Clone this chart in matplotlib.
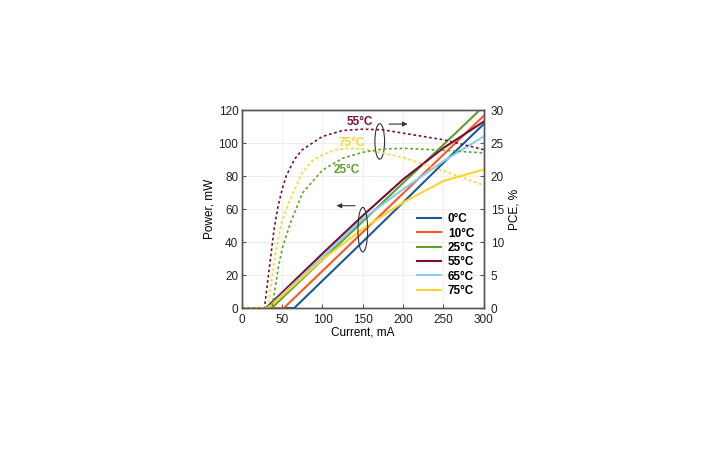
import numpy as np
import matplotlib
matplotlib.use("Agg")
import matplotlib.pyplot as plt
from matplotlib.patches import Ellipse

plt.rcParams['font.family'] = ['Liberation Sans', 'DejaVu Sans']

# --- data ---
temps = ["0°C", "10°C", "25°C", "55°C", "65°C", "75°C"]
colors = ["#1a5a9a", "#ff5722", "#5ba22a", "#7a0d33", "#86ccf2", "#ffd32a"]

# output power (mW) vs current (mA)
p_x = {
    "0°C":  [0, 65, 100, 150, 200, 250, 300],
    "10°C": [0, 52, 100, 150, 200, 250, 300],
    "25°C": [0, 37, 100, 150, 200, 250, 300],
    "55°C": [0, 30, 100, 150, 200, 250, 300],
    "65°C": [0, 32, 100, 150, 200, 250, 300],
    "75°C": [0, 33, 100, 150, 200, 250, 300],
}
p_y = {
    "0°C":  [0, 0, 16.6, 40.2, 64.0, 88.0, 111.5],
    "10°C": [0, 0, 22.5, 46.0, 69.5, 93.0, 116.5],
    "25°C": [0, 0, 29.3, 52.5, 75.8, 99.0, 122.3],
    "55°C": [0, 0, 33.0, 56.0, 78.0, 97.0, 113.0],
    "65°C": [0, 0, 31.0, 54.0, 72.0, 89.0, 104.0],
    "75°C": [0, 0, 29.5, 48.0, 64.0, 77.0, 84.0],
}

# power conversion efficiency (%) vs current (mA)
pce_temps = ["55°C", "75°C", "25°C"]
pce_x = {
    "55°C": [0, 28, 30, 35, 40, 45, 50, 55, 65, 75, 100, 125, 150, 175, 200, 250, 300],
    "75°C": [0, 33, 35, 40, 45, 50, 60, 75, 88, 100, 116, 134, 150, 175, 200, 250, 300],
    "25°C": [0, 37, 40, 45, 50, 60, 75, 100, 125, 150, 175, 200, 250, 300],
}
pce_y = {
    "55°C": [0, 0, 2, 7, 12, 15.5, 18, 20, 22.5, 24, 26, 26.9, 27.1, 27, 26.5, 25.5, 24],
    "75°C": [0, 0, 2.5, 7, 10.5, 13.3, 16.5, 20.5, 22.4, 23.2, 24, 24.2, 24.1, 23.5, 22.8, 20.8, 18.6],
    "25°C": [0, 0, 2, 6, 9, 12.8, 17.4, 20.9, 22.7, 23.6, 24.1, 24.2, 23.9, 23.5],
}

col = dict(zip(temps, colors))

fig = plt.figure(figsize=(7.22, 4.51), dpi=100)
ax = fig.add_axes([0.335, 0.317, 0.335, 0.439])
ax2 = ax.twinx()

for t in temps:
    ax.plot(p_x[t], p_y[t], color=col[t], lw=1.5, label=t, zorder=3)

for t in pce_temps:
    ax2.plot(pce_x[t], pce_y[t], color=col[t], lw=1.2, ls=(0, (1.6, 1.6)))

ax.set_xlim(0, 300)
ax.set_ylim(0, 120)
ax2.set_ylim(0, 30)
ax.set_xticks(np.arange(0, 301, 50))
ax.set_yticks(np.arange(0, 121, 20))
ax2.set_yticks(np.arange(0, 31, 5))

ax.grid(True, color="#ededed", lw=0.6)
ax.set_axisbelow(True)

spine_c = "#555555"
for a in (ax, ax2):
    for s in a.spines.values():
        s.set_color(spine_c)
        s.set_linewidth(1.0)
    a.tick_params(direction="in", length=3, width=0.8, color=spine_c,
                  labelsize=8.5, labelcolor="#222222", pad=2.5)
ax.tick_params(axis="x", pad=4)
ax2.tick_params(axis="y", pad=5)

ax.set_xlabel("Current, mA", fontsize=8.5, labelpad=1)
ax.set_ylabel("Power, mW", fontsize=8.5, labelpad=2)
ax2.set_ylabel("PCE, %", fontsize=8.5, labelpad=3)

leg = ax.legend(loc="lower right", bbox_to_anchor=(0.99, 0.02), frameon=False,
                prop={"weight": "bold", "size": 8.5}, handlelength=2.0,
                labelspacing=0.2, handletextpad=0.6, borderaxespad=0.2)

# labels for the PCE curves
ax.text(146, 112.5, "55°C", color=col["55°C"], fontsize=8.5, weight="bold", ha="center", va="center")
ax.text(136, 100, "75°C", color=col["75°C"], fontsize=8.5, weight="bold", ha="center", va="center")
ax.text(130, 83.5, "25°C", color=col["25°C"], fontsize=8.5, weight="bold", ha="center", va="center")

# ellipses and arrows
ax.add_patch(Ellipse((171, 101), 12, 21.5, fill=False, ec="#333333", lw=0.8, zorder=5))
ax.add_patch(Ellipse((150, 47.5), 12, 27, fill=False, ec="#333333", lw=0.8, zorder=5))
ax.annotate("", xy=(209, 111.5), xytext=(179, 111.5),
            arrowprops=dict(arrowstyle="-|>", color="#333333", lw=0.8, mutation_scale=7))
ax.annotate("", xy=(114, 62), xytext=(144, 62),
            arrowprops=dict(arrowstyle="-|>", color="#333333", lw=0.8, mutation_scale=7))

fig.savefig("out.png", dpi=100)
